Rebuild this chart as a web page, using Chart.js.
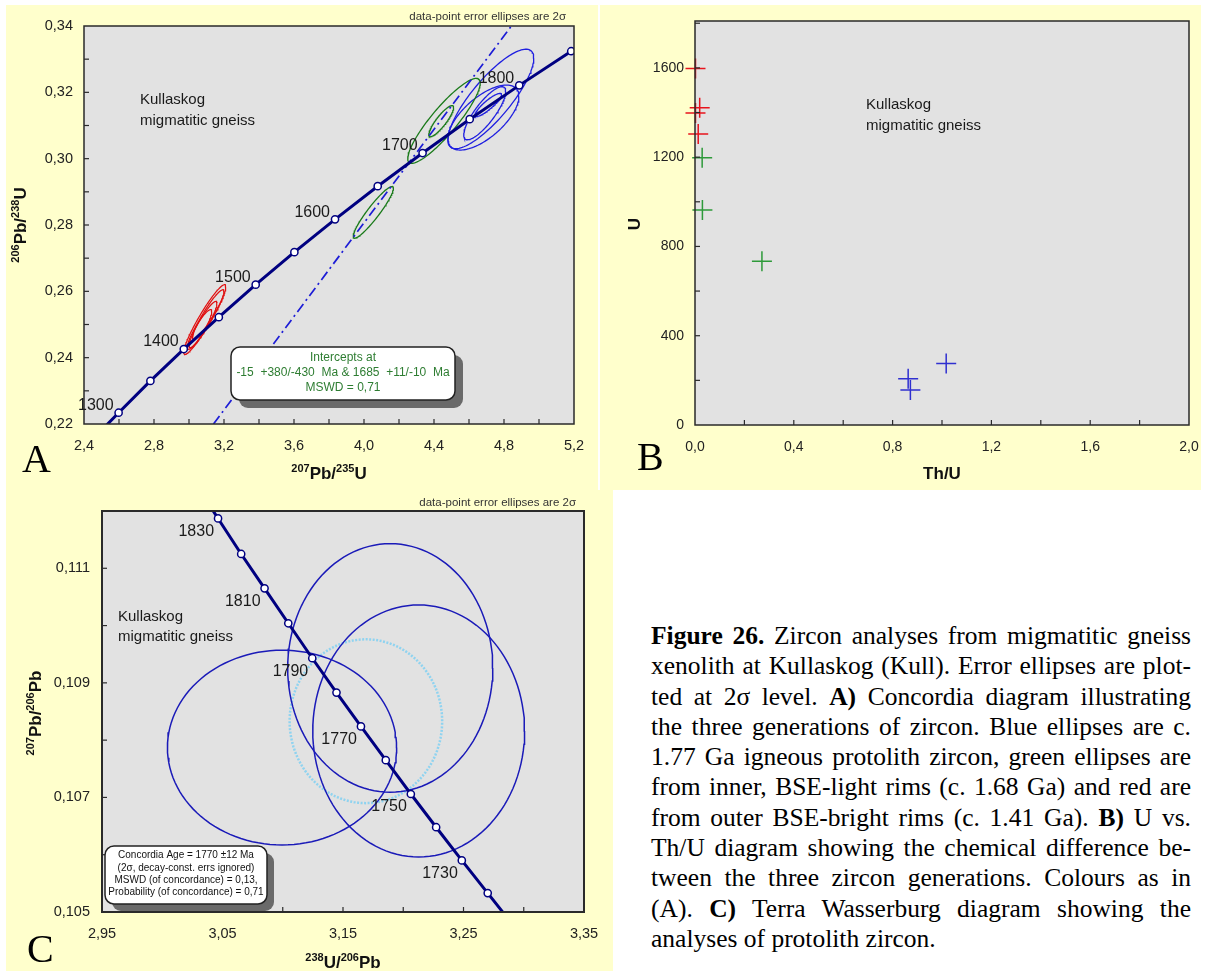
<!DOCTYPE html>
<html>
<head>
<meta charset="utf-8">
<script src="https://cdn.jsdelivr.net/npm/chart.js@4.4.1/dist/chart.umd.min.js"></script>
<style>
  html, body { margin: 0; padding: 0; background: #fff; width: 1213px; height: 971px; overflow: hidden; }
  .yel { position: absolute; background: #ffffcc; }
  canvas { position: absolute; }
  #caption {
    position: absolute; left: 651px; top: 621px; width: 540px;
    font-family: "Liberation Serif", "Times New Roman", serif;
    font-size: 25.5px; line-height: 30.3px; color: #000; white-space: nowrap;
  }
  #caption div { text-align: justify; text-align-last: justify; }
  #caption div:last-child { text-align: left; text-align-last: left; }
</style>
</head>
<body>
<div class="yel" style="left:6px;top:5px;width:592px;height:485px"></div>
<div class="yel" style="left:600px;top:5px;width:601px;height:485px"></div>
<div class="yel" style="left:6px;top:490px;width:607px;height:481px"></div>

<canvas id="chart-a" style="left:0;top:0"></canvas>
<canvas id="chart-b" style="left:600px;top:0"></canvas>
<canvas id="chart-c" style="left:0;top:490px"></canvas>

<div id="caption">
<div><b>Figure 26.</b> Zircon analyses from migmatitic gneiss</div>
<div>xenolith at Kullaskog (Kull). Error ellipses are plot-</div>
<div>ted at 2σ level. <b>A)</b> Concordia diagram illustrating</div>
<div>the three generations of zircon. Blue ellipses are c.</div>
<div>1.77 Ga igneous protolith zircon, green ellipses are</div>
<div>from inner, BSE-light rims (c. 1.68 Ga) and red are</div>
<div>from outer BSE-bright rims (c. 1.41 Ga). <b>B)</b> U vs.</div>
<div>Th/U diagram showing the chemical difference be-</div>
<div>tween the three zircon generations. Colours as in</div>
<div>(A). <b>C)</b> Terra Wasserburg diagram showing the</div>
<div>analyses of protolith zircon.</div>
</div>

<script>
/* ── Panel A: Wetherill concordia ─────────────────────────────── */
const concAges  = [1250, 1300, 1350, 1400, 1450, 1500, 1550, 1600, 1650, 1700, 1750, 1800, 1850, 1900];
const concX     = [2.4249, 2.5978, 2.7794, 2.9701, 3.1705, 3.3811, 3.6021, 3.8344, 4.0784, 4.3348, 4.6041, 4.8870, 5.1841, 5.4962];
const concY     = [0.2140, 0.2234, 0.2330, 0.2426, 0.2522, 0.2620, 0.2718, 0.2817, 0.2917, 0.3017, 0.3119, 0.3221, 0.3324, 0.3430];
const concLabelled = [1300, 1400, 1500, 1600, 1700, 1800];
const discordiaX = [3.140, 4.842];
const discordiaY = [0.22, 0.34];

// error ellipses: [centre x, centre y, 2σ x, 2σ y, rho]
const redEllipsesA = [
  [3.090, 0.2515, 0.120, 0.0105, 0.94],
  [3.080, 0.2500, 0.080, 0.0070, 0.92],
  [3.110, 0.2530, 0.090, 0.0075, 0.93],
  [3.060, 0.2485, 0.070, 0.0060, 0.90],
];
const greenEllipsesA = [
  [4.053, 0.2838, 0.115, 0.0078, 0.93],
  [4.457, 0.3114, 0.207, 0.0128, 0.89],
  [4.441, 0.3113, 0.071, 0.0047, 0.87],
];
const blueEllipsesA = [
  [4.725, 0.3180, 0.245, 0.0150, 0.82],
  [4.682, 0.3124, 0.203, 0.0098, 0.65],
  [4.690, 0.3137, 0.120, 0.0080, 0.82],
  [4.710, 0.3162, 0.076, 0.0035, 0.88],
];

const aTicksX  = [2.4, 2.6, 2.8, 3.0, 3.2, 3.4, 3.6, 3.8, 4.0, 4.2, 4.4, 4.6, 4.8, 5.0, 5.2];
const aLabelsX = ['2,4', '', '2,8', '', '3,2', '', '3,6', '', '4,0', '', '4,4', '', '4,8', '', '5,2'];
const aTicksY  = [0.22, 0.23, 0.24, 0.25, 0.26, 0.27, 0.28, 0.29, 0.30, 0.31, 0.32, 0.33, 0.34];
const aLabelsY = ['0,22', '', '0,24', '', '0,26', '', '0,28', '', '0,30', '', '0,32', '', '0,34'];

/* ── Panel B: U vs Th/U ───────────────────────────────────────── */
const redThU   = [0.002, 0.019, 0.002, 0.013];
const redU     = [1597, 1421, 1398, 1304];
const greenThU = [0.029, 0.030, 0.271];
const greenU   = [1197, 963, 734];
const blueThU  = [0.863, 0.872, 1.017];
const blueU    = [207, 157, 275];

const bTicksX  = [0, 0.2, 0.4, 0.6, 0.8, 1.0, 1.2, 1.4, 1.6, 1.8, 2.0];
const bLabelsX = ['0,0', '', '0,4', '', '0,8', '', '1,2', '', '1,6', '', '2,0'];
const bTicksY  = [0, 200, 400, 600, 800, 1000, 1200, 1400, 1600, 1800];
const bLabelsY = ['0', '', '400', '', '800', '', '1200', '', '1600', ''];

/* ── Panel C: Terra-Wasserburg ────────────────────────────────── */
const twAges = [1840, 1830, 1820, 1810, 1800, 1790, 1780, 1770, 1760, 1750, 1740, 1730, 1720, 1710];
const twX    = [3.0272, 3.0463, 3.0655, 3.0849, 3.1046, 3.1245, 3.1446, 3.1649, 3.1855, 3.2063, 3.2273, 3.2486, 3.2701, 3.2919];
const twY    = [0.11249, 0.11187, 0.11125, 0.11065, 0.11004, 0.10943, 0.10883, 0.10824, 0.10765, 0.10706, 0.10648, 0.10590, 0.10533, 0.10475];
const twLabelled = [1730, 1750, 1770, 1790, 1810, 1830];
const blueEllipsesC = [
  [3.0994, 0.10787, 0.0951, 0.00170, 0.0],
  [3.1892, 0.10926, 0.0851, 0.00217, 0.0],
  [3.2128, 0.10816, 0.0879, 0.00220, 0.0],
];
const concordiaEllipseC = [3.1690, 0.10833, 0.0633, 0.00143, 0.0];

const cTicksX  = [2.95, 3.00, 3.05, 3.10, 3.15, 3.20, 3.25, 3.30, 3.35];
const cLabelsX = ['2,95', '', '3,05', '', '3,15', '', '3,25', '', '3,35'];
const cTicksY  = [0.105, 0.106, 0.107, 0.108, 0.109, 0.110, 0.111, 0.112];
const cLabelsY = ['0,105', '', '0,107', '', '0,109', '', '0,111', ''];

/* ── helpers ──────────────────────────────────────────────────── */
const SANS = '"Liberation Sans", Arial, sans-serif';
const SERIF = '"Liberation Serif", "Times New Roman", serif';

function ellipsePts(e) {
  const [cx, cy, sx, sy, rho] = e;
  const k = Math.sqrt(1 - rho * rho);
  const pts = [];
  for (let i = 0; i <= 120; i++) {
    const t = i / 120 * 2 * Math.PI;
    pts.push({ x: cx + sx * Math.cos(t), y: cy + sy * (rho * Math.cos(t) + k * Math.sin(t)) });
  }
  return pts;
}

function ellipseSet(e, color, width, dash) {
  return {
    data: ellipsePts(e), showLine: true, borderColor: color, borderWidth: width,
    borderDash: dash || [], pointRadius: 0, fill: false, tension: 0, clip: 0,
  };
}

function concordiaSet(xs, ys, ages, hidden) {
  return {
    data: xs.map((x, i) => ({ x, y: ys[i] })),
    showLine: true, borderColor: '#000080', borderWidth: 3, tension: 0, clip: 0,
    pointRadius: ages.map(a => hidden.includes(a) ? 0 : 3.6),
    pointBackgroundColor: '#ffffff', pointBorderColor: '#000080', pointBorderWidth: 1.5,
  };
}

function drawRich(ctx, parts, x, y, size, vertical) {
  const big = `bold ${size}px ${SANS}`;
  const small = `bold ${Math.round(size * 0.66)}px ${SANS}`;
  ctx.save();
  ctx.translate(x, y);
  if (vertical) ctx.rotate(-Math.PI / 2);
  let w = 0;
  parts.forEach(p => { ctx.font = p[1] ? small : big; w += ctx.measureText(p[0]).width; });
  let cx = -w / 2;
  ctx.fillStyle = '#111';
  ctx.textBaseline = 'alphabetic';
  ctx.textAlign = 'left';
  parts.forEach(p => {
    ctx.font = p[1] ? small : big;
    ctx.fillText(p[0], cx, p[1] ? size * 0.35 - size * 0.42 : size * 0.35);
    cx += ctx.measureText(p[0]).width;
  });
  ctx.restore();
}

function makeDecor(cfg) {
  return {
    id: 'decor',
    beforeDatasetsDraw(chart) {
      const { ctx, chartArea: a } = chart;
      ctx.save();
      ctx.fillStyle = '#e2e2e2';
      ctx.fillRect(a.left, a.top, a.right - a.left, a.bottom - a.top);
      ctx.restore();
    },
    afterDraw(chart) {
      const { ctx, chartArea: a, scales } = chart;
      ctx.save();
      // frame
      ctx.strokeStyle = '#2a2a2a';
      ctx.lineWidth = cfg.frameWidth || 1.5;
      ctx.strokeRect(a.left, a.top, a.right - a.left, a.bottom - a.top);
      // inward ticks
      ctx.lineWidth = 1.2;
      scales.x.ticks.forEach(t => {
        const px = scales.x.getPixelForValue(t.value);
        if (px < a.left + 2 || px > a.right - 2) return;
        ctx.beginPath(); ctx.moveTo(px, a.bottom); ctx.lineTo(px, a.bottom - 5); ctx.stroke();
      });
      scales.y.ticks.forEach(t => {
        const py = scales.y.getPixelForValue(t.value);
        if (py < a.top + 2 || py > a.bottom - 2) return;
        ctx.beginPath(); ctx.moveTo(a.left, py); ctx.lineTo(a.left + 5, py); ctx.stroke();
      });
      // age labels on concordia
      if (cfg.ages) {
        const g = cfg.ages;
        ctx.font = `16px ${SANS}`;
        ctx.fillStyle = '#1a1a1a';
        ctx.textAlign = 'right';
        ctx.textBaseline = 'middle';
        g.labelled.forEach(age => {
          const i = g.ages.indexOf(age);
          const px = scales.x.getPixelForValue(g.xs[i]);
          const py = scales.y.getPixelForValue(g.ys[i]);
          ctx.fillText(String(age), px + g.dx, py + g.dy);
        });
      }
      // notes
      (cfg.notes || []).forEach(n => {
        ctx.font = n.font;
        ctx.fillStyle = n.color || '#1a1a1a';
        ctx.textAlign = n.align || 'left';
        ctx.textBaseline = 'middle';
        ctx.fillText(n.text, n.x, n.y);
      });
      // boxes with drop shadow
      (cfg.boxes || []).forEach(b => {
        ctx.fillStyle = '#6a6a6a';
        ctx.beginPath(); ctx.roundRect(b.x + b.shadow, b.y + b.shadow, b.w, b.h, b.r); ctx.fill();
        ctx.fillStyle = '#ffffff';
        ctx.strokeStyle = '#222';
        ctx.lineWidth = 1.5;
        ctx.beginPath(); ctx.roundRect(b.x, b.y, b.w, b.h, b.r); ctx.fill(); ctx.stroke();
        ctx.font = b.font;
        ctx.fillStyle = b.color;
        ctx.textAlign = 'center';
        ctx.textBaseline = 'middle';
        b.lines.forEach((l, i) => ctx.fillText(l, b.x + b.w / 2, b.y + b.first + i * b.step));
      });
      // axis titles
      drawRich(ctx, cfg.xTitle.parts, cfg.xTitle.x, cfg.xTitle.y, 17, false);
      drawRich(ctx, cfg.yTitle.parts, cfg.yTitle.x, cfg.yTitle.y, 17, true);
      // panel letter
      ctx.font = `40px ${SERIF}`;
      ctx.fillStyle = '#000';
      ctx.textAlign = 'left';
      ctx.textBaseline = 'alphabetic';
      ctx.fillText(cfg.letter.text, cfg.letter.x, cfg.letter.y);
      ctx.restore();
    },
  };
}

function axis(min, max, tickVals, tickLabels, size, padding, fontSize) {
  return {
    type: 'linear', min, max,
    afterFit: s => { if (s.isHorizontal()) s.height = size; else s.width = size; },
    afterBuildTicks: s => { s.ticks = tickVals.map(v => ({ value: v })); },
    grid: { display: false, drawTicks: false },
    border: { display: false },
    ticks: {
      autoSkip: false, maxRotation: 0, padding,
      color: '#222', font: { family: 'Liberation Sans', size: fontSize },
      callback: (v, i) => tickLabels[i],
    },
  };
}

function makeChart(id, w, h, padding, scales, datasets, cfg) {
  const canvas = document.getElementById(id);
  canvas.width = w; canvas.height = h;
  canvas.style.width = w + 'px'; canvas.style.height = h + 'px';
  return new Chart(canvas, {
    type: 'scatter',
    data: { datasets },
    options: {
      responsive: false, animation: false, devicePixelRatio: 1,
      layout: { padding },
      plugins: { legend: { display: false }, tooltip: { enabled: false } },
      scales,
    },
    plugins: [makeDecor(cfg)],
  });
}

/* ── Chart A ──────────────────────────────────────────────────── */
makeChart('chart-a', 600, 490, { top: 26, right: 26, left: 0, bottom: 0 },
  {
    x: axis(2.4, 5.2, aTicksX, aLabelsX, 66, 13, 14.5),
    y: axis(0.22, 0.34, aTicksY, aLabelsY, 84, 11, 14.5),
  },
  [
    concordiaSet(concX, concY, concAges, [1250, 1900]),
    {
      data: discordiaX.map((x, i) => ({ x, y: discordiaY[i] })), showLine: true,
      borderColor: '#1c1cd6', borderWidth: 1.7, borderDash: [10, 4, 2, 4], pointRadius: 0, clip: 0,
    },
    ...greenEllipsesA.map(e => ellipseSet(e, '#1a7a1a', 1.3)),
    ...blueEllipsesA.map(e => ellipseSet(e, '#1f1fe0', 1.3)),
    ...redEllipsesA.map(e => ellipseSet(e, '#e01010', 1.2)),
  ],
  {
    ages: { ages: concAges, xs: concX, ys: concY, labelled: concLabelled, dx: -5, dy: -7 },
    notes: [
      { text: 'Kullaskog', x: 140, y: 100, font: `15px ${SANS}` },
      { text: 'migmatitic gneiss', x: 140, y: 121, font: `15px ${SANS}` },
      { text: 'data-point error ellipses are 2σ', x: 566, y: 17, font: `11.5px ${SANS}`, color: '#333', align: 'right' },
    ],
    boxes: [{
      x: 231, y: 347, w: 224, h: 53, r: 9, shadow: 8, first: 10.5, step: 15,
      font: `12px ${SANS}`, color: '#2e7d32',
      lines: ['Intercepts at', '-15  +380/-430  Ma & 1685  +11/-10  Ma', 'MSWD = 0,71'],
    }],
    xTitle: { parts: [['207', true], ['Pb/', false], ['235', true], ['U', false]], x: 329, y: 473 },
    yTitle: { parts: [['206', true], ['Pb/', false], ['238', true], ['U', false]], x: 20, y: 225 },
    letter: { text: 'A', x: 22, y: 472 },
  });

/* ── Chart B ──────────────────────────────────────────────────── */
function crossSet(xs, ys, color) {
  return {
    data: xs.map((x, i) => ({ x, y: ys[i] })),
    pointStyle: 'cross', pointRadius: 10, borderColor: color, borderWidth: 1.5, clip: false,
  };
}
makeChart('chart-b', 613, 490, { top: 21, right: 24, left: 0, bottom: 0 },
  {
    x: axis(0, 2.0, bTicksX, bLabelsX, 65, 14, 14),
    y: axis(0, 1810, bTicksY, bLabelsY, 95, 11, 14),
  },
  [
    crossSet(redThU, redU, '#e8141c'),
    crossSet(greenThU, greenU, '#2e9a3a'),
    crossSet(blueThU, blueU, '#3030d0'),
  ],
  {
    notes: [
      { text: 'Kullaskog', x: 266, y: 105, font: `15px ${SANS}` },
      { text: 'migmatitic gneiss', x: 266, y: 126, font: `15px ${SANS}` },
    ],
    xTitle: { parts: [['Th/U', false]], x: 342, y: 473 },
    yTitle: { parts: [['U', false]], x: 34.5, y: 224 },
    letter: { text: 'B', x: 37, y: 470 },
  });

/* ── Chart C ──────────────────────────────────────────────────── */
makeChart('chart-c', 620, 481, { top: 21, right: 36, left: 0, bottom: 0 },
  {
    x: axis(2.95, 3.35, cTicksX, cLabelsX, 59, 13, 14.5),
    y: axis(0.105, 0.112, cTicksY, cLabelsY, 102, 12, 14.5),
  },
  [
    concordiaSet(twX, twY, twAges, [1840, 1710]),
    ...blueEllipsesC.map(e => ellipseSet(e, '#1a1ab8', 1.5)),
    ellipseSet(concordiaEllipseC, '#8fd3f0', 2.5, [2, 1.5]),
  ],
  {
    frameWidth: 2,
    ages: { ages: twAges, xs: twX, ys: twY, labelled: twLabelled, dx: -4, dy: 13 },
    notes: [
      { text: 'Kullaskog', x: 118, y: 127, font: `15px ${SANS}` },
      { text: 'migmatitic gneiss', x: 118, y: 147, font: `15px ${SANS}` },
      { text: 'data-point error ellipses are 2σ', x: 576, y: 13, font: `11.5px ${SANS}`, color: '#333', align: 'right' },
    ],
    boxes: [{
      x: 105, y: 356, w: 162, h: 58, r: 9, shadow: 7, first: 9.5, step: 12.3,
      font: `10px ${SANS}`, color: '#111',
      lines: ['Concordia Age = 1770 ±12 Ma', '(2σ, decay-const. errs ignored)', 'MSWD (of concordance) = 0,13,', 'Probability (of concordance) = 0,71'],
    }],
    xTitle: { parts: [['238', true], ['U/', false], ['206', true], ['Pb', false]], x: 343, y: 472 },
    yTitle: { parts: [['207', true], ['Pb/', false], ['206', true], ['Pb', false]], x: 35.5, y: 223 },
    letter: { text: 'C', x: 27, y: 472 },
  });
</script>
</body>
</html>
